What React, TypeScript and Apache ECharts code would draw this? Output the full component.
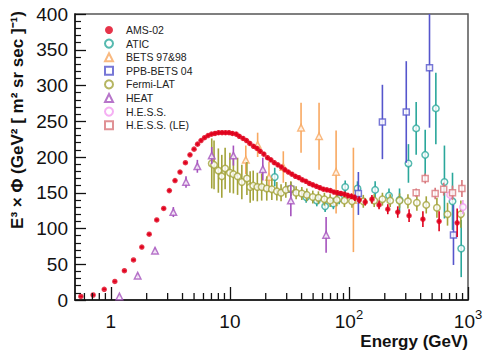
import React, { useEffect, useRef } from "react";
import * as echarts from "echarts";

// Each point: [energy (GeV), E^3 x flux, error]
type Pt = [number, number, number];

const FONT = '"Liberation Sans", Arial, Helvetica, sans-serif';

const amsData: Pt[] = [
  [0.56, 5, 1], [0.71, 7, 1], [0.88, 15, 1], [1.08, 26, 1], [1.3, 41, 1.5],
  [1.55, 56, 1.5], [1.82, 74, 2], [2.1, 92, 2], [2.43, 112, 2], [2.78, 128, 2],
  [3.1, 153, 2], [3.46, 167, 2], [3.81, 179, 2], [4.23, 192, 2], [4.62, 203, 2],
  [5.0, 211, 2], [5.35, 218, 2.5], [5.72, 223, 2.5], [6.12, 227, 2.5], [6.55, 230, 2.5],
  [7.01, 232, 2.5], [7.5, 233, 3], [8.03, 234, 3], [8.59, 234, 3], [9.19, 234, 3],
  [9.83, 234, 3], [10.5, 233, 3], [11.3, 232, 3], [12.0, 229, 3], [12.9, 226, 3],
  [13.8, 223, 3], [14.7, 219, 3], [15.8, 215, 3], [16.9, 212, 3], [18.0, 208, 3],
  [19.3, 204, 3], [20.7, 199, 3], [22.1, 196, 3], [23.6, 192, 3], [25.3, 189, 3],
  [27.1, 186, 3], [29.0, 182, 3], [31.0, 179, 3], [33.2, 176, 3], [35.5, 173, 3],
  [38.0, 171, 3], [40.6, 168, 3], [43.5, 166, 3], [46.5, 163, 3], [49.8, 161, 3],
  [53.3, 159, 3], [57.0, 157, 3], [61.0, 155, 3], [65.3, 154, 3], [69.9, 153, 3],
  [74.8, 151, 3], [80.0, 150, 3.5], [85.6, 149, 3.5], [91.6, 148, 3.5], [98.0, 146, 4],
  [105, 145, 4], [112, 143, 4.5], [122, 140, 5], [137, 137, 5], [156, 141, 6],
  [179, 133, 6], [212, 127, 7], [257, 123, 8], [320, 118, 9], [418, 113, 11],
  [572, 110, 14], [811, 108, 20],
];

const aticData: Pt[] = [
  [23.8, 172, 13], [43.7, 144, 8], [53.7, 139, 8], [63.1, 131, 8], [74.0, 135, 8],
  [82.7, 142, 8], [93.0, 158, 9], [118, 156, 10], [166, 154, 12], [217, 146, 10],
  [266, 140, 16], [316, 191, 27], [367, 240, 37], [437, 203, 35], [537, 268, 50],
  [634, 165, 51], [741, 138, 40], [877, 72, 40],
];

const bets9798Data: Pt[] = [
  [13.6, 196, 20], [17.1, 217, 17], [21.3, 172, 21], [28.1, 186, 22],
  [39.6, 241, 35], [56.1, 229, 47], [78.0, 179, 58], [109, 140, 73],
];

const ppbBets04Data: Pt[] = [
  [32.5, 155, 10], [120, 149, 30], [191, 249, 52], [303, 263, 71], [475, 325, 84], [755, 91, 42],
];

const fermiData: Pt[] = [
  [7.04, 191, 35], [7.36, 189, 34], [8.0, 181, 31], [8.55, 173, 30], [9.12, 184, 29],
  [10.0, 178, 28], [10.7, 176, 27], [11.6, 173, 26], [12.6, 165, 24], [13.9, 170, 23],
  [14.8, 158, 22], [15.7, 160, 21], [17.0, 158, 20], [18.5, 158, 19], [20.4, 156, 17],
  [22.5, 155, 15], [24.8, 152, 13], [26.9, 150, 12], [29.5, 154, 11], [32.5, 156, 10],
  [36.0, 150, 9], [40.2, 149, 9], [44.3, 147, 9], [49.7, 144, 9], [55.4, 143, 9],
  [62.2, 141, 9], [69.5, 139, 9], [79.1, 140, 9], [91.6, 139, 9], [106, 138, 9],
  [132, 138, 9], [163, 139, 9], [191, 141, 9], [222, 139, 9], [266, 139, 10],
  [313, 138, 10], [372, 136, 11], [446, 133, 12], [548, 129, 14], [673, 120, 16],
  [871, 120, 19],
];

const heatData: Pt[] = [
  [1.18, 5, 2], [1.68, 34, 3], [2.35, 69, 4], [3.35, 123, 7], [4.28, 165, 8],
  [5.33, 187, 9], [7.04, 202, 12], [10.7, 202, 14], [18.9, 183, 16], [32.5, 139, 22],
  [64.3, 91, 25],
];

const hessData: Pt[] = [
  [708, 147, 8], [906, 130, 10],
];

const hessLeData: Pt[] = [
  [367, 150, 6], [437, 170, 7], [530, 149, 8], [625, 155, 9], [741, 150, 10], [889, 156, 12],
];

// minor ticks of the logarithmic energy axis
const xMinorTicks = [
  0.6, 0.7, 0.8, 0.9, 2, 3, 4, 5, 6, 7, 8, 9, 20, 30, 40, 50, 60, 70, 80, 90,
  200, 300, 400, 500, 600, 700, 800, 900,
];

const legendOrder = [
  "AMS-02", "ATIC", "BETS 97&98", "PPB-BETS 04", "Fermi-LAT", "HEAT", "H.E.S.S.", "H.E.S.S. (LE)",
];

interface Dataset {
  name: string;
  data: Pt[];
  color: string;
  symbol: string;
  size: number;
  filled: boolean;
  hBar: number;
}

const datasets: Dataset[] = [
  { name: "ATIC", data: aticData, color: "#2aa79b", symbol: "circle", size: 6.5, filled: false, hBar: 0 },
  { name: "BETS 97&98", data: bets9798Data, color: "#f8a860", symbol: "triangle", size: 6.5, filled: false, hBar: 0 },
  { name: "PPB-BETS 04", data: ppbBets04Data, color: "#5555cc", symbol: "rect", size: 6, filled: false, hBar: 0 },
  { name: "Fermi-LAT", data: fermiData, color: "#a3a33a", symbol: "circle", size: 6.5, filled: false, hBar: 0 },
  { name: "HEAT", data: heatData, color: "#a552bd", symbol: "triangle", size: 6.5, filled: false, hBar: 0 },
  { name: "H.E.S.S.", data: hessData, color: "#f39bf0", symbol: "circle", size: 6.5, filled: false, hBar: 0 },
  { name: "H.E.S.S. (LE)", data: hessLeData, color: "#d8757a", symbol: "rect", size: 6, filled: false, hBar: 0 },
  { name: "AMS-02", data: amsData, color: "#e0001b", symbol: "circle", size: 5.5, filled: true, hBar: 1.035 },
];

function errorSeries(d: Dataset, z: number) {
  return {
    type: "custom",
    name: d.name + " errors",
    data: d.data,
    encode: { x: 0, y: 1 },
    silent: true,
    z,
    renderItem: (_params: any, api: any) => {
      const e = api.value(0);
      const v = api.value(1);
      const err = api.value(2);
      const hi = Math.min(v + err, 400);
      const lo = Math.max(v - err, 0);
      const a = api.coord([e, hi]);
      const b = api.coord([e, lo]);
      const style = { stroke: d.color, lineWidth: 1.6 };
      const children: any[] = [
        { type: "line", shape: { x1: a[0], y1: a[1], x2: b[0], y2: b[1] }, style },
      ];
      if (d.hBar > 0) {
        const l = api.coord([e / d.hBar, v]);
        const r = api.coord([e * d.hBar, v]);
        children.push({ type: "line", shape: { x1: l[0], y1: l[1], x2: r[0], y2: r[1] }, style });
      }
      return { type: "group", children };
    },
  };
}

function markerSeries(d: Dataset, z: number) {
  return {
    type: "scatter",
    name: d.name,
    data: d.data.map((p) => [p[0], p[1]]),
    symbol: d.symbol,
    symbolSize: d.size,
    z,
    itemStyle: d.filled
      ? { color: d.color }
      : { color: "#ffffff", borderColor: d.color, borderWidth: 1.5 },
  };
}

export default function App() {
  const ref = useRef<HTMLDivElement>(null);

  useEffect(() => {
    if (!ref.current) return;
    const chart = echarts.init(ref.current, null, { renderer: "svg" });

    const series: any[] = [];
    datasets.forEach((d, i) => {
      series.push(errorSeries(d, 2 + i * 2));
      series.push(markerSeries(d, 3 + i * 2));
    });
    series.push({
      type: "custom",
      name: "minor ticks",
      data: xMinorTicks.map((v) => [v, 0]),
      encode: { x: 0, y: 1 },
      silent: true,
      z: 30,
      renderItem: (_params: any, api: any) => {
        const p = api.coord([api.value(0), 0]);
        return {
          type: "line",
          shape: { x1: p[0], y1: p[1], x2: p[0], y2: p[1] - 7 },
          style: { stroke: "#111", lineWidth: 1.3 },
        };
      },
    });

    chart.setOption({
      animation: false,
      backgroundColor: "#ffffff",
      textStyle: { fontFamily: FONT },
      grid: {
        left: 75,
        right: 28,
        top: 14,
        bottom: 50,
        show: true,
        borderColor: "#555",
        borderWidth: 1.5,
        backgroundColor: "transparent",
      },
      legend: {
        orient: "vertical",
        left: 99,
        top: 19,
        padding: 5,
        itemWidth: 8,
        itemHeight: 8,
        itemGap: 1.6,
        selectedMode: false,
        data: legendOrder,
        textStyle: {
          fontFamily: FONT,
          fontSize: 10.5,
          color: "#222",
          lineHeight: 12,
          padding: [0, 0, 0, 8],
        },
      },
      xAxis: {
        type: "log",
        logBase: 10,
        min: 0.5,
        max: 1000,
        axisLine: { lineStyle: { color: "#111", width: 1.5 } },
        axisTick: { inside: true, length: 13, lineStyle: { color: "#111", width: 1.3 } },
        splitLine: { show: false },
        axisLabel: {
          showMinLabel: false,
          fontFamily: FONT,
          fontSize: 19,
          color: "#111",
          lineHeight: 26,
          margin: 8,
          formatter: (v: number) => {
            if (Math.abs(v - 100) < 1e-6) return "10{sup|2}";
            if (Math.abs(v - 1000) < 1e-6) return "10{sup|3}";
            return String(Math.round(v * 100) / 100);
          },
          rich: {
            sup: { fontSize: 13, lineHeight: 13, verticalAlign: "top", fontFamily: FONT, color: "#111" },
          },
        },
      },
      yAxis: {
        type: "value",
        min: 0,
        max: 400,
        interval: 50,
        axisLine: { show: true, lineStyle: { color: "#111", width: 1.5 } },
        axisTick: { show: true, inside: true, length: 11, lineStyle: { color: "#111", width: 1.3 } },
        minorTick: { show: true, splitNumber: 5, length: 6, lineStyle: { color: "#111", width: 1.2 } },
        splitLine: { show: false },
        axisLabel: { fontFamily: FONT, fontSize: 19, color: "#111", margin: 7 },
      },
      graphic: [
        {
          type: "text",
          x: 17,
          y: 120,
          rotation: Math.PI / 2,
          style: {
            text: "E\u00b3 \u00d7 \u03a6 (GeV\u00b2 [ m\u00b2 sr sec ]\u207b\u00b9)",
            font: `bold 17px ${FONT}`,
            fill: "#111",
            align: "center",
            verticalAlign: "middle",
            textAlign: "center",
            textVerticalAlign: "middle",
          },
        },
        {
          type: "text",
          x: 468,
          y: 341,
          style: {
            text: "Energy (GeV)",
            font: `bold 17px ${FONT}`,
            fill: "#111",
            align: "right",
            verticalAlign: "middle",
            textAlign: "right",
            textVerticalAlign: "middle",
          },
        },
      ],
      series,
    });

    return () => chart.dispose();
  }, []);

  return (
    <div
      ref={ref}
      style={{ position: "absolute", left: 0, top: 0, width: 496, height: 350 }}
    />
  );
}
